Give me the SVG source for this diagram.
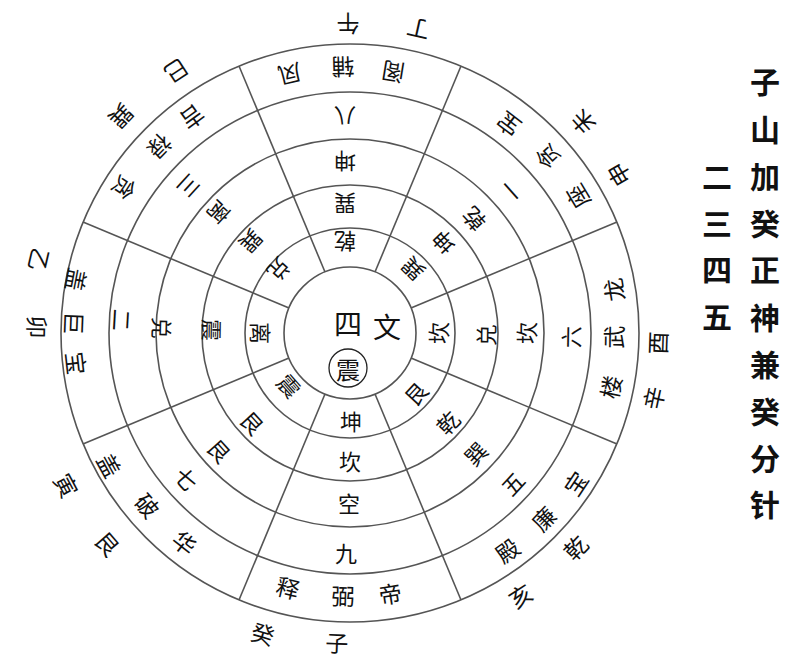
<svg xmlns="http://www.w3.org/2000/svg" width="800" height="668" viewBox="0 0 800 668">
<style>
text{font-family:"Noto Sans CJK SC","Noto Sans CJK TC",sans-serif;fill:#111;text-anchor:middle;dominant-baseline:central}
.ring{fill:none;stroke:#555;stroke-width:1.6}
.ln{stroke:#555;stroke-width:1.6}
.o{font-size:23px}
.r5{font-size:23px}
.r{font-size:22px}
.c{font-size:28px}
.v{font-size:30px;font-weight:bold;font-family:"Noto Sans CJK SC",serif}
</style>
<rect width="800" height="668" fill="#fff"/>
<g id="rings">
<circle class="ring" cx="350" cy="333" r="289"/>
<circle class="ring" cx="350" cy="333" r="241"/>
<circle class="ring" cx="350" cy="333" r="194"/>
<circle class="ring" cx="350" cy="333" r="148"/>
<circle class="ring" cx="350" cy="333" r="105"/>
<circle class="ring" cx="350" cy="333" r="66"/>
</g>
<g id="connectors">
<line class="ln" x1="411" y1="358" x2="617" y2="444"/>
<line class="ln" x1="375" y1="394" x2="461" y2="600"/>
<line class="ln" x1="325" y1="394" x2="239" y2="600"/>
<line class="ln" x1="289" y1="358" x2="83" y2="444"/>
<line class="ln" x1="289" y1="308" x2="83" y2="222"/>
<line class="ln" x1="325" y1="272" x2="239" y2="66"/>
<line class="ln" x1="375" y1="272" x2="461" y2="66"/>
<line class="ln" x1="411" y1="308" x2="617" y2="222"/>
</g>
<g id="outer-labels" class="o">
<text transform="translate(348,25) rotate(180)">午</text>
<text transform="translate(418,30) rotate(192.6)">丁</text>
<text transform="translate(582,123) rotate(227.8)">未</text>
<text transform="translate(618,175) rotate(239.5)">申</text>
<text transform="translate(657,343) rotate(-88.1)">酉</text>
<text transform="translate(653,398) rotate(-77.9)">辛</text>
<text transform="translate(575,547) rotate(-46.4)">乾</text>
<text transform="translate(520,595) rotate(-33)">亥</text>
<text transform="translate(337,642) rotate(2.4)">子</text>
<text transform="translate(263,633) rotate(16.2)">癸</text>
<text transform="translate(108,543) rotate(49)">艮</text>
<text transform="translate(67,485) rotate(61.8)">寅</text>
<text transform="translate(38,327) rotate(91.1)">卯</text>
<text transform="translate(40,260) rotate(103.2)">乙</text>
<text transform="translate(122,117) rotate(133.5)">巽</text>
<text transform="translate(177,72) rotate(146.5)">巳</text>
</g>
<g id="sector-top">
<text class="r5" transform="translate(290,75) rotate(166.9)">凤</text>
<text class="r5" transform="translate(343,68) rotate(178.5)">辅</text>
<text class="r5" transform="translate(393,73) rotate(189.4)">阁</text>
<text class="r" transform="translate(345,118) rotate(180)">八</text>
<text class="r" transform="translate(345,163) rotate(180)">坤</text>
<text class="r" transform="translate(345,205) rotate(180)">巽</text>
<text class="r" transform="translate(345,243) rotate(180)">乾</text>
</g>
<g id="sector-upper-right">
<text class="r5" transform="translate(508,125) rotate(217.2)">宝</text>
<text class="r5" transform="translate(547,157) rotate(228.2)">贪</text>
<text class="r5" transform="translate(577,197) rotate(239.1)">座</text>
<text class="r" transform="translate(510,192) rotate(228.6)">一</text>
<text class="r" transform="translate(473,220) rotate(227.4)">乾</text>
<text class="r" transform="translate(443,243) rotate(226)">坤</text>
<text class="r" transform="translate(412,270) rotate(224.5)">巽</text>
</g>
<g id="sector-right">
<text class="r5" transform="translate(613,290) rotate(-99.3)">龙</text>
<text class="r5" transform="translate(613,337) rotate(-89.1)">武</text>
<text class="r5" transform="translate(610,387) rotate(-78.3)">楼</text>
<text class="r" transform="translate(570,337) rotate(-89)">六</text>
<text class="r" transform="translate(525,333) rotate(-90)">坎</text>
<text class="r" transform="translate(485,335) rotate(-89)">兑</text>
<text class="r" transform="translate(437,333) rotate(-90)">坎</text>
</g>
<g id="sector-lower-right">
<text class="r5" transform="translate(575,483) rotate(-56.3)">宝</text>
<text class="r5" transform="translate(543,518) rotate(-46.2)">廉</text>
<text class="r5" transform="translate(507,550) rotate(-35.9)">殿</text>
<text class="r" transform="translate(512,483) rotate(-47.2)">五</text>
<text class="r" transform="translate(475,453) rotate(-46.2)">巽</text>
<text class="r" transform="translate(447,422) rotate(-47.5)">乾</text>
<text class="r" transform="translate(415,393) rotate(-47.3)">艮</text>
</g>
<g id="sector-bottom">
<text class="r5" transform="translate(390,593) rotate(-8.7)">帝</text>
<text class="r5" transform="translate(343,595) rotate(1.5)">弼</text>
<text class="r5" transform="translate(288,587) rotate(13.7)">释</text>
<text class="r" transform="translate(346,552)">九</text>
<text class="r" transform="translate(349,502)">空</text>
<text class="r" transform="translate(350,460)">坎</text>
<text class="r" transform="translate(351,420)">坤</text>
</g>
<g id="sector-lower-left">
<text class="r5" transform="translate(185,542) rotate(38.3)">华</text>
<text class="r5" transform="translate(148,505) rotate(49.6)">破</text>
<text class="r5" transform="translate(110,465) rotate(61.2)">盖</text>
<text class="r" transform="translate(187,478) rotate(48.3)">七</text>
<text class="r" transform="translate(220,450) rotate(48)">艮</text>
<text class="r" transform="translate(253,422) rotate(47.5)">艮</text>
<text class="r" transform="translate(290,385) rotate(49)">震</text>
</g>
<g id="sector-left">
<text class="r5" transform="translate(77,363) rotate(83.7)">宝</text>
<text class="r5" transform="translate(75,323) rotate(92.1)">巨</text>
<text class="r5" transform="translate(77,280) rotate(101)">盖</text>
<text class="r" transform="translate(123,320) rotate(93.3)">二</text>
<text class="r" transform="translate(163,328) rotate(91.5)">兑</text>
<text class="r" transform="translate(213,330) rotate(91)">震</text>
<text class="r" transform="translate(262,333) rotate(90)">离</text>
</g>
<g id="sector-upper-left">
<text class="r5" transform="translate(125,188) rotate(122.8)">贪</text>
<text class="r5" transform="translate(160,147) rotate(134.4)">禄</text>
<text class="r5" transform="translate(193,118) rotate(143.9)">吉</text>
<text class="r" transform="translate(190,187) rotate(132.4)">三</text>
<text class="r" transform="translate(220,213) rotate(132.7)">离</text>
<text class="r" transform="translate(252,242) rotate(132.9)">巽</text>
<text class="r" transform="translate(280,270) rotate(132)">兑</text>
</g>
<g id="center">
<text class="c" x="348" y="323">四</text>
<text class="c" x="387" y="326">文</text>
<circle cx="348" cy="368" r="19" fill="none" stroke="#222" stroke-width="1.3"/>
<text x="348" y="368" style="font-size:24px">震</text>
</g>
<g id="title" class="v">
<text x="765" y="80">子</text>
<text x="765" y="128">山</text>
<text x="765" y="175">加</text>
<text x="765" y="222">癸</text>
<text x="765" y="268">正</text>
<text x="765" y="316">神</text>
<text x="765" y="363">兼</text>
<text x="765" y="410">癸</text>
<text x="765" y="457">分</text>
<text x="765" y="503">针</text>
<text x="717" y="175">二</text>
<text x="717" y="222">三</text>
<text x="717" y="268">四</text>
<text x="717" y="315">五</text>
</g>
</svg>
